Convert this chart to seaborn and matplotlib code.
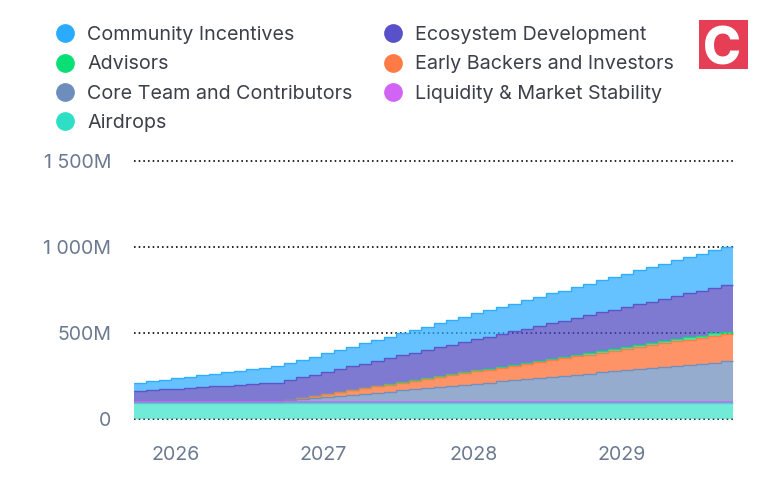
import numpy as np
import pandas as pd
import seaborn as sns
import matplotlib.pyplot as plt
from matplotlib.lines import Line2D
from matplotlib.patches import Rectangle

# monthly unlocks in millions, Oct 2025 to Sep 2029
years = ['2026', '2027', '2028', '2029']
year_pos = [3.3, 15.2, 27.2, 39.1]
y_ticks = [0, 500, 1000, 1500]
y_labels = ['0', '500M', '1 000M', '1 500M']

airdrops = [90] * 48
liquidity = [10] * 48
core_team = [0] * 12 + [6, 13, 19, 26, 32, 39, 45, 52, 58, 65, 71, 78, 84, 91, 97, 104, 110, 117,
                        123, 130, 136, 143, 149, 156, 162, 169, 175, 182, 188, 195, 201, 208, 214, 221, 227, 233]
early_backers = [0] * 12 + [4, 9, 13, 18, 22, 27, 31, 36, 40, 44, 49, 53, 58, 62, 67, 71, 76, 80,
                            84, 89, 93, 98, 102, 107, 111, 116, 120, 124, 129, 133, 138, 142, 147, 151, 156, 160]
advisors = [0] * 12 + [0, 1, 1, 1, 2, 2, 3, 3, 3, 4, 4, 4, 5, 5, 5, 6, 6, 6,
                       7, 7, 8, 8, 8, 9, 9, 9, 10, 10, 10, 11, 11, 12, 12, 12, 13, 13]
ecosystem = [62, 66, 71, 75, 80, 84, 89, 93, 97, 102, 106, 110,
             115, 119, 124, 128, 132, 137, 141, 146, 150, 155, 159, 164, 168, 172, 177, 181, 186, 190,
             195, 199, 203, 208, 212, 217, 221, 226, 230, 234, 239, 243, 248, 252, 257, 261, 266, 270]
community = [48, 52, 56, 61, 65, 69, 73, 77, 82, 86, 90, 94,
             98, 101, 105, 108, 112, 115, 119, 122, 126, 129, 133, 136, 140, 144, 147, 151, 154, 158,
             161, 165, 168, 172, 175, 179, 183, 186, 190, 193, 197, 200, 204, 207, 211, 214, 218, 222]

# bottom of the stack first
names = ['Airdrops', 'Liquidity & Market Stability', 'Core Team and Contributors',
         'Early Backers and Investors', 'Advisors', 'Ecosystem Development', 'Community Incentives']
series = [airdrops, liquidity, core_team, early_backers, advisors, ecosystem, community]
colors = {
    'Community Incentives': '#2AABFF',
    'Ecosystem Development': '#5851C9',
    'Advisors': '#0ADF75',
    'Early Backers and Investors': '#FF7A45',
    'Core Team and Contributors': '#6D8DBD',
    'Liquidity & Market Stability': '#D264F5',
    'Airdrops': '#2EDFC5',
}
# fills come out paler than the legend dots, so a few need a stronger base
fill_colors = dict(colors)
fill_colors['Early Backers and Investors'] = '#FF6A2E'
fill_colors['Ecosystem Development'] = '#4E47C0'
fill_colors['Airdrops'] = '#3BE3CA'

rows = []
for name, vals in zip(names, series):
    for i, v in enumerate(vals):
        rows.append({'month': i + 0.5, 'series': name, 'value': v})
df = pd.DataFrame(rows)

sns.set_style('white')
plt.rcParams['font.family'] = ['Inter', 'DejaVu Sans']

fig = plt.figure(figsize=(7.68, 4.91), dpi=100)
ax = fig.add_axes([134 / 768, 1 - 418.7 / 491, 602 / 768, 257.7 / 491])

# histplot puts the first hue level on top of the stack
sns.histplot(data=df, x='month', weights='value', hue='series', hue_order=names[::-1],
             multiple='stack', element='step', bins=48, binrange=(0, 48),
             palette=fill_colors, alpha=0.72, linewidth=0, legend=False, ax=ax, zorder=2)

edges = np.arange(49)
tops = np.cumsum(np.array(series), axis=0)
# top of the stack first, so the flat purple line stays visible in the first year
for name, top in list(zip(names, tops))[::-1]:
    lw = 1.4 if name == 'Liquidity & Market Stability' else 1.0
    ax.stairs(top, edges, baseline=None, color=colors[name], lw=lw, alpha=0.9, zorder=3)

ax.set_xlim(0, 48.24)
ax.set_ylim(0, 1500)
ax.set_xticks(year_pos, years)
ax.set_yticks(y_ticks, y_labels)
ax.set_xlabel('')
ax.set_ylabel('')
ax.tick_params(axis='both', length=0, labelsize=14.1, labelcolor='#6B7A90')
ax.tick_params(axis='x', pad=20)
ax.tick_params(axis='y', pad=16.5)
ax.yaxis.grid(True, color='black', lw=1.2, linestyle=(0, (0.95, 1.85)))
ax.xaxis.grid(False)
ax.set_axisbelow(True)
for line in ax.get_ygridlines():
    line.set_clip_on(False)
sns.despine(ax=ax, left=True, bottom=True)

legend_order = ['Community Incentives', 'Advisors', 'Core Team and Contributors', 'Airdrops',
                'Ecosystem Development', 'Early Backers and Investors', 'Liquidity & Market Stability']
handles = [Line2D([], [], ls='', marker='o', ms=13.5, mfc=colors[n], mec='none', label=n) for n in legend_order]
fig.legend(handles=handles, ncols=2, frameon=False, loc='upper left', bbox_to_anchor=(53 / 768, 1 - 26 / 491),
           bbox_transform=fig.transFigure, fontsize=14.2, labelcolor='#3C4048', borderpad=0, borderaxespad=0,
           handlelength=1.2, handletextpad=0.53, labelspacing=0.58, columnspacing=1.45)

# site logo
fig.add_artist(Rectangle((699 / 768, 1 - 69 / 491), 49 / 768, 49 / 491, transform=fig.transFigure,
                         color='#E63E55', lw=0))
fig.text(722 / 768, 1 - 64.5 / 491, 'C', color='white', fontsize=37, fontweight='heavy',
         ha='center', va='baseline')

plt.savefig('out.png', dpi=100)
